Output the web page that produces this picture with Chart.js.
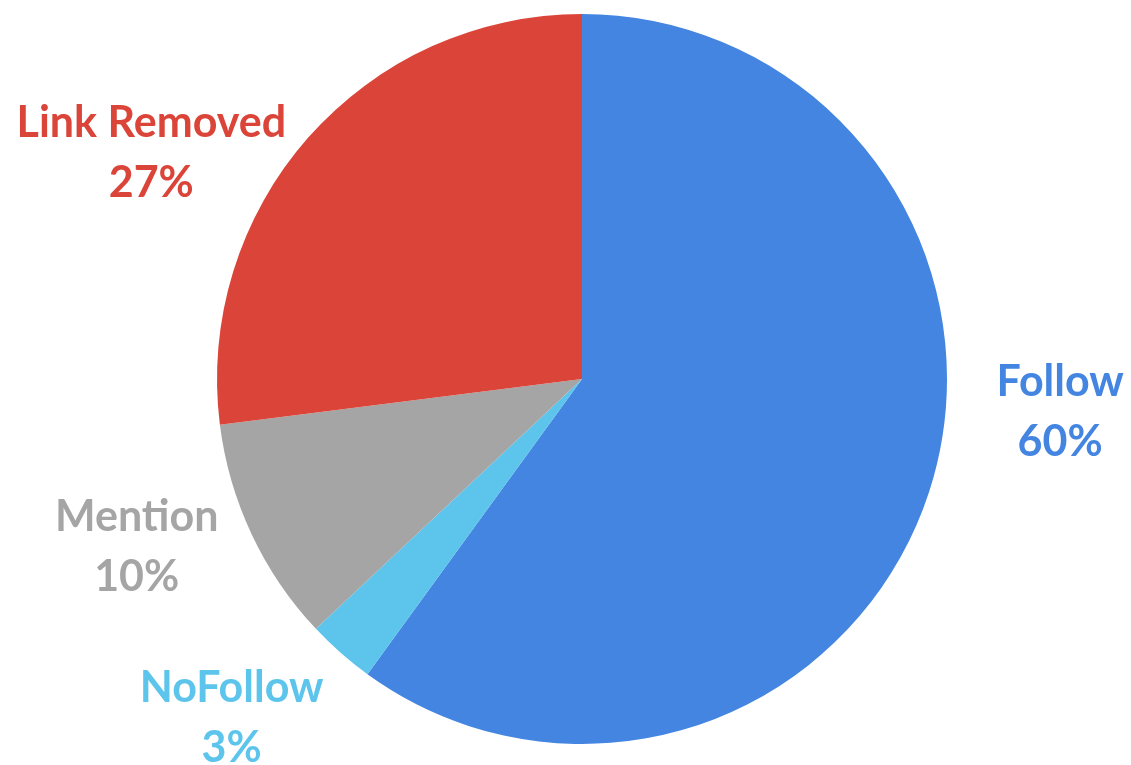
<!DOCTYPE html>
<html>
<head>
<meta charset="utf-8">
<script src="https://cdn.jsdelivr.net/npm/chart.js@4.4.1/dist/chart.umd.min.js"></script>
<style>
  html, body { margin: 0; padding: 0; background: #fff; }
  #wrap { width: 1131px; height: 765px; }
</style>
</head>
<body>
<div id="wrap"><canvas id="myChart" width="1131" height="765"></canvas></div>
<script>
const categories = ['Follow', 'NoFollow', 'Mention', 'Link Removed'];
const shares = [60, 3, 10, 27];
const sliceColors = ['#4385E0', '#5DC5EC', '#A5A5A5', '#DB4539'];

// where each label sits, in units of the pie radius from its centre
const labelOffsets = [
    [1.31, 0.09],
    [-0.96, 0.93],
    [-1.22, 0.46],
    [-1.18, -0.62]
];

// draws the coloured name + percent next to each slice
const outsideLabels = {
    id: 'outsideLabels',
    afterDraw(chart) {
        const ctx = chart.ctx;
        const arc = chart.getDatasetMeta(0).data[0];
        const cx = arc.x, cy = arc.y, r = arc.outerRadius;
        ctx.save();
        ctx.font = 'bold 43px Lato';
        ctx.textAlign = 'center';
        ctx.textBaseline = 'middle';
        categories.forEach((name, i) => {
            const x = cx + labelOffsets[i][0] * r;
            const y = cy + labelOffsets[i][1] * r;
            ctx.fillStyle = sliceColors[i];
            ctx.fillText(name, x, y - 30);
            ctx.fillText(shares[i] + '%', x, y + 30);
        });
        ctx.restore();
    }
};

const ctx = document.getElementById('myChart').getContext('2d');
new Chart(ctx, {
    type: 'pie',
    data: {
        labels: categories,
        datasets: [{
            data: shares,
            backgroundColor: sliceColors,
            borderWidth: 0
        }]
    },
    options: {
        responsive: false,
        animation: false,
        layout: {
            padding: { left: 217, right: 184, top: 14, bottom: 21 }
        },
        plugins: {
            legend: { display: false },
            tooltip: { enabled: false }
        }
    },
    plugins: [outsideLabels]
});
</script>
</body>
</html>
